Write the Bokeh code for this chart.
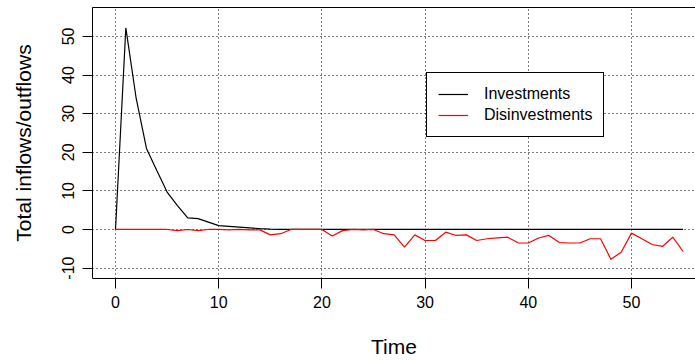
from bokeh.plotting import figure
from bokeh.models import Range1d, FixedTicker, LinearAxis, Legend, LegendItem
from bokeh.embed import file_html
from bokeh.resources import INLINE

# Time steps and the two flow series
time = list(range(56))
investments = [0, 52.2, 34.0, 21.0, 15.3, 9.7, 6.2, 3.0, 2.8, 1.9,
               1.0, 0.8, 0.6, 0.4, 0.2, 0.1, 0.05, 0, 0, 0,
               0, 0, 0, 0, 0, 0, 0, 0, 0, 0,
               0, 0, 0, 0, 0, 0, 0, 0, 0, 0,
               0, 0, 0, 0, 0, 0, 0, 0, 0, 0,
               0, 0, 0, 0, 0, 0]
disinvestments = [0, 0, 0, 0, 0, 0, -0.3, 0, -0.3, 0,
                  0, -0.1, 0, -0.1, -0.1, -1.4, -1.1, 0, 0, 0,
                  0, -1.7, -0.3, 0, -0.1, 0, -1.1, -1.4, -4.6, -1.4,
                  -2.85, -2.85, -0.7, -1.55, -1.4, -2.85, -2.4, -2.2, -2.0, -3.45,
                  -3.5, -2.2, -1.55, -3.4, -3.5, -3.5, -2.4, -2.4, -7.7, -5.9,
                  -0.95, -2.4, -3.9, -4.4, -2.0, -5.7]

x_ticks = [0, 10, 20, 30, 40, 50]
y_ticks = [-10, 0, 10, 20, 30, 40, 50]

FONT = "Liberation Sans"

p = figure(width=695, height=360, output_backend="svg", toolbar_location=None,
           x_range=Range1d(-2.23, 56.2), y_range=Range1d(-12.7, 57.5),
           min_border_left=92, min_border_right=0, min_border_top=7,
           min_border_bottom=82, x_axis_label="Time",
           y_axis_label="Total inflows/outflows")
p.outline_line_color = None
p.background_fill_color = "white"
p.border_fill_color = "white"

xax = p.below[0]
yax = p.left[0]

# top edge of the box
top = LinearAxis(ticker=FixedTicker(ticks=[]), major_tick_out=0, major_tick_in=0,
                 major_label_standoff=0, major_label_text_font_size="0px",
                 axis_line_color="black", axis_line_width=1)
p.add_layout(top, "above")

for ax in (xax, yax):
    ax.axis_line_color = "black"
    ax.axis_line_width = 1
    ax.major_tick_line_color = "black"
    ax.major_tick_in = 0
    ax.major_tick_out = 10
    ax.minor_tick_line_color = None
    ax.major_label_text_font = FONT
    ax.major_label_text_font_size = "16px"
    ax.major_label_text_color = "black"
    ax.axis_label_text_font = FONT
    ax.axis_label_text_font_size = "21px"
    ax.axis_label_text_font_style = "normal"
    ax.axis_label_text_color = "black"

xax.ticker = FixedTicker(ticks=x_ticks)
yax.ticker = FixedTicker(ticks=y_ticks)
yax.major_label_overrides = {t: str(t) for t in y_ticks}
xax.major_label_standoff = 7
xax.axis_label_standoff = 24
yax.major_label_orientation = "vertical"
yax.major_label_standoff = 8
yax.axis_label_standoff = 25

p.xgrid.ticker = FixedTicker(ticks=x_ticks)
p.ygrid.ticker = FixedTicker(ticks=y_ticks)
for g in (p.xgrid[0], p.ygrid[0]):
    g.grid_line_color = "black"
    g.grid_line_dash = "1 3"
    g.grid_line_width = 1

r_inv = p.line(time, investments, line_color="black", line_width=1.2)
r_dis = p.line(time, disinvestments, line_color="red", line_width=1.2)

legend = Legend(items=[LegendItem(label="Investments", renderers=[r_inv]),
                       LegendItem(label="Disinvestments", renderers=[r_dis])],
                location=(334, 141))
legend.border_line_color = "black"
legend.border_line_width = 1
legend.border_line_alpha = 1
legend.background_fill_color = "white"
legend.background_fill_alpha = 1
legend.padding = 11
legend.spacing = 1
legend.margin = 0
legend.label_height = 20
legend.glyph_height = 20
legend.glyph_width = 30
legend.label_standoff = 16
legend.label_text_font = FONT
legend.label_text_font_size = "16px"
legend.label_text_color = "black"
p.add_layout(legend)

open("out.html", "w").write(file_html(p, INLINE))
